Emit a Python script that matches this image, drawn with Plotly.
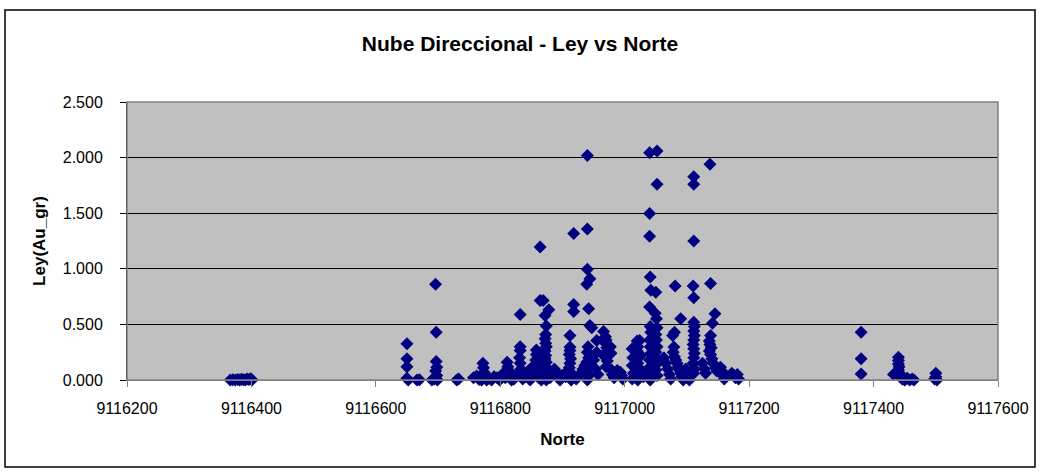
import plotly.graph_objects as go

norte = [
    9116366, 9116370, 9116374, 9116378, 9116381, 9116384, 9116387, 9116390, 9116393, 9116396, 9116399, 9116401,
    9116650, 9116650, 9116650, 9116650, 9116652, 9116666, 9116670,
    9116690, 9116694, 9116696, 9116697, 9116697, 9116698, 9116696, 9116698, 9116695, 9116699,
    9116730, 9116733,
    9116757, 9116762, 9116766, 9116770, 9116772, 9116773, 9116774, 9116775, 9116778, 9116782, 9116786, 9116790, 9116795, 9116799,
    9116805, 9116808, 9116811, 9116812, 9116813, 9116815, 9116818, 9116822, 9116826,
    9116832, 9116832, 9116832, 9116831, 9116832, 9116833, 9116834, 9116836,
    9116840, 9116845, 9116848, 9116852, 9116855, 9116858, 9116858, 9116857, 9116859, 9116860, 9116861, 9116862,
    9116864, 9116864, 9116869, 9116866, 9116868,
    9116878, 9116872, 9116874, 9116873, 9116872, 9116873, 9116874, 9116872, 9116873, 9116872, 9116874, 9116873, 9116871, 9116875, 9116873, 9116874,
    9116880, 9116884, 9116887, 9116890, 9116893, 9116896, 9116899, 9116905, 9116908,
    9116912, 9116912, 9116912, 9116911, 9116913, 9116912, 9116911, 9116913, 9116912, 9116914,
    9116918, 9116918, 9116918,
    9116922, 9116926, 9116930, 9116933, 9116936,
    9116940, 9116940, 9116940, 9116944, 9116939, 9116942, 9116944, 9116947, 9116941, 9116940, 9116942, 9116939, 9116941, 9116940, 9116942, 9116940,
    9116950, 9116953, 9116955, 9116955, 9116957,
    9116966, 9116969, 9116970, 9116969, 9116971, 9116970, 9116968, 9116972, 9116970,
    9116977, 9116978, 9116979, 9116980, 9116983, 9116988, 9116990, 9116993, 9116995, 9116997,
    9117012, 9117013, 9117012, 9117014, 9117012,
    9117020, 9117021, 9117020, 9117022, 9117021, 9117020, 9117022, 9117021,
    9117024, 9117026, 9117028, 9117030,
    9117040, 9117040, 9117040, 9117041, 9117042, 9117040, 9117041, 9117042, 9117040, 9117041, 9117042, 9117040, 9117041, 9117040, 9117041,
    9117052, 9117052, 9117050, 9117049, 9117051, 9117052, 9117050, 9117051, 9117052, 9117050, 9117052, 9117051, 9117050, 9117052,
    9117063, 9117066, 9117069, 9117072, 9117074,
    9117077, 9117080, 9117081, 9117079, 9117078, 9117080, 9117082, 9117084, 9117086, 9117088, 9117090, 9117090, 9117092, 9117094,
    9117098, 9117100, 9117102, 9117104,
    9117111, 9117111, 9117111, 9117110, 9117111, 9117111, 9117112, 9117111, 9117112, 9117111, 9117110, 9117111, 9117112, 9117111, 9117110, 9117112, 9117111,
    9117125, 9117128, 9117130,
    9117137, 9117138, 9117145, 9117141, 9117138, 9117136, 9117137, 9117139, 9117136, 9117138, 9117140, 9117142, 9117146, 9117148,
    9117154, 9117156, 9117158, 9117160,
    9117172, 9117176, 9117178, 9117181, 9117183,
    9117380, 9117380, 9117380,
    9117432, 9117436, 9117440, 9117440, 9117440, 9117441, 9117440, 9117442, 9117444, 9117446, 9117450, 9117454, 9117458, 9117462, 9117465,
    9117500, 9117500, 9117502, 9117498,
]

ley = [
    0.000, 0.002, 0.000, 0.004, 0.000, 0.006, 0.002, 0.000, 0.010, 0.004, 0.012, 0.000,
    0.326, 0.190, 0.120, 0.015, 0.000, 0.000, 0.003,
    0.000, 0.010, 0.860, 0.430, 0.167, 0.115, 0.080, 0.040, 0.020, 0.000,
    0.000, 0.010,
    0.020, 0.035, 0.005, 0.000, 0.150, 0.110, 0.070, 0.040, 0.000, 0.015, 0.000, 0.030, 0.020, 0.000,
    0.060, 0.020, 0.160, 0.120, 0.090, 0.040, 0.000, 0.010, 0.050,
    0.590, 0.300, 0.266, 0.200, 0.150, 0.100, 0.050, 0.010,
    0.030, 0.080, 0.000, 0.120, 0.060, 0.270, 0.230, 0.180, 0.140, 0.100, 0.060, 0.020,
    1.196, 0.716, 0.716, 0.000, 0.040,
    0.632, 0.580, 0.485, 0.410, 0.370, 0.330, 0.300, 0.260, 0.220, 0.190, 0.160, 0.120, 0.090, 0.060, 0.030, 0.000,
    0.020, 0.050, 0.100, 0.070, 0.020, 0.000, 0.040, 0.030, 0.080,
    0.400, 0.296, 0.266, 0.230, 0.190, 0.150, 0.110, 0.070, 0.030, 0.000,
    1.317, 0.680, 0.617,
    0.010, 0.040, 0.060, 0.100, 0.130,
    2.020, 1.359, 0.995, 0.910, 0.860, 0.640, 0.490, 0.470, 0.300, 0.250, 0.200, 0.160, 0.120, 0.080, 0.040, 0.000,
    0.180, 0.100, 0.356, 0.250, 0.050,
    0.437, 0.390, 0.360, 0.330, 0.290, 0.250, 0.210, 0.170, 0.120,
    0.300, 0.240, 0.090, 0.050, 0.020, 0.085, 0.050, 0.070, 0.040, 0.010,
    0.280, 0.200, 0.130, 0.060, 0.010,
    0.350, 0.300, 0.260, 0.200, 0.150, 0.100, 0.050, 0.000,
    0.356, 0.220, 0.080, 0.030,
    2.043, 1.497, 1.293, 0.926, 0.806, 0.656, 0.480, 0.430, 0.360, 0.300, 0.240, 0.180, 0.120, 0.060, 0.000,
    2.060, 1.760, 0.790, 0.600, 0.550, 0.470, 0.410, 0.360, 0.300, 0.250, 0.190, 0.140, 0.090, 0.040,
    0.200, 0.150, 0.100, 0.050, 0.010,
    0.400, 0.430, 0.845, 0.296, 0.250, 0.210, 0.180, 0.150, 0.120, 0.090, 0.550, 0.060, 0.030, 0.000,
    0.100, 0.060, 0.020, 0.000,
    1.827, 1.760, 1.250, 0.845, 0.740, 0.520, 0.480, 0.440, 0.400, 0.360, 0.320, 0.280, 0.240, 0.200, 0.150, 0.100, 0.060,
    0.150, 0.100, 0.060,
    1.940, 0.867, 0.596, 0.510, 0.400, 0.350, 0.320, 0.290, 0.260, 0.230, 0.190, 0.150, 0.110, 0.080,
    0.115, 0.080, 0.040, 0.010,
    0.060, 0.040, 0.020, 0.050, 0.010,
    0.430, 0.190, 0.055,
    0.050, 0.070, 0.205, 0.175, 0.145, 0.120, 0.090, 0.060, 0.030, 0.010, 0.000, 0.015, 0.000, 0.010, 0.000,
    0.060, 0.030, 0.000, 0.010,
]

x_ticks = [9116200, 9116400, 9116600, 9116800, 9117000, 9117200, 9117400, 9117600]
y_ticks = [0.0, 0.5, 1.0, 1.5, 2.0, 2.5]
y_ticktext = ["0.000", "0.500", "1.000", "1.500", "2.000", "2.500"]

FONT = "Liberation Sans, Arial, sans-serif"

fig = go.Figure()
fig.add_trace(go.Scatter(
    x=norte, y=ley, mode="markers",
    marker=dict(symbol="diamond", size=10, color="#000080", line=dict(width=0)),
    cliponaxis=False, showlegend=False, hoverinfo="skip",
))

L, R, T, B = 127, 42, 102, 92
W, H = 1040, 472
pw, ph = W - L - R, H - T - B

fig.update_layout(
    width=W, height=H,
    margin=dict(l=L, r=R, t=T, b=B),
    paper_bgcolor="white", plot_bgcolor="#C0C0C0",
    font=dict(family=FONT, size=16, color="black"),
    title=dict(text="<b>Nube Direccional - Ley vs Norte</b>", x=0.5, xanchor="center",
               y=1 - 44 / H, yanchor="middle", font=dict(size=21, family=FONT)),
    xaxis=dict(
        range=[9116200, 9117600], tickmode="array", tickvals=x_ticks,
        ticktext=[str(v) for v in x_ticks], showgrid=False, zeroline=False,
        showline=True, linecolor="#808080", linewidth=1,
        ticks="outside", ticklen=6, tickcolor="#808080",
        ticklabelstandoff=8,
        title=dict(text="<b>Norte</b>", font=dict(size=17), standoff=16),
        tickfont=dict(size=16),
    ),
    yaxis=dict(
        range=[0, 2.5], tickmode="array", tickvals=y_ticks, ticktext=y_ticktext,
        showgrid=True, gridcolor="black", gridwidth=1, zeroline=False,
        showline=True, linecolor="black", linewidth=1,
        ticks="outside", ticklen=6, tickcolor="black",
        ticklabelstandoff=14,
        title=dict(text="<b>Ley(Au_gr)</b>", font=dict(size=17), standoff=12),
        tickfont=dict(size=16),
    ),
    shapes=[
        dict(type="rect", xref="paper", yref="paper", x0=0, x1=1, y0=0, y1=1,
             line=dict(color="#808080", width=1.5), layer="above"),
        dict(type="rect", xref="paper", yref="paper",
             x0=(5 - L) / pw, x1=(1035 - L) / pw,
             y0=(H - B - 467) / ph, y1=(H - B - 10) / ph,
             line=dict(color="black", width=1.5)),
    ],
)

fig.write_html("out.html", config={"displayModeBar": False},
               post_script="document.body.style.margin='0';document.body.style.overflow='hidden';")
